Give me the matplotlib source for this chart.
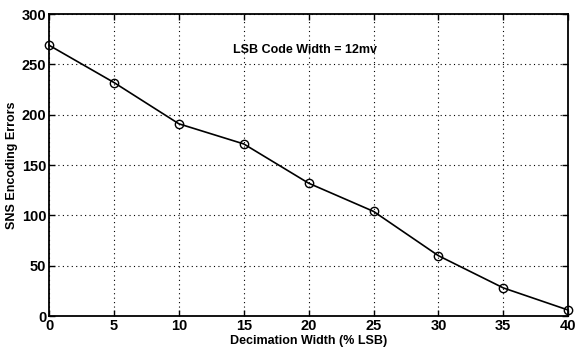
import matplotlib
matplotlib.use("Agg")
import matplotlib.pyplot as plt

decimation_width = [0, 5, 10, 15, 20, 25, 30, 35, 40]
encoding_errors = [269, 232, 191, 171, 132, 104, 60, 28, 6]

x_ticks = [0, 5, 10, 15, 20, 25, 30, 35, 40]
y_ticks = [0, 50, 100, 150, 200, 250, 300]

plt.rcParams['font.family'] = ['Liberation Sans', 'DejaVu Sans']

fig = plt.figure(figsize=(5.78, 3.52), dpi=100)
ax = fig.add_axes([0.085, 0.102, 0.898, 0.858])

ax.plot(decimation_width, encoding_errors, color='black', linewidth=1.2,
        marker='o', markersize=6, markerfacecolor='none', markeredgecolor='black',
        markeredgewidth=1.0, clip_on=False, zorder=3)

ax.set_xlim(0, 40)
ax.set_ylim(0, 300)
ax.set_xticks(x_ticks)
ax.set_yticks(y_ticks)
ax.grid(True, linestyle=(0, (1, 3)), color='black', linewidth=0.8)
ax.tick_params(direction='in', top=True, right=True, length=4, width=1,
               labelsize=10.5, pad=2)
for lab in ax.get_xticklabels() + ax.get_yticklabels():
    lab.set_fontweight('bold')
for s in ax.spines.values():
    s.set_linewidth(1.3)

ax.set_xlabel('Decimation Width (% LSB)', fontsize=9, fontweight='bold', labelpad=1.5)
ax.set_ylabel('SNS Encoding Errors', fontsize=9, fontweight='bold', labelpad=3)
ax.text(19.7, 264, 'LSB Code Width = 12mv', fontsize=9, fontweight='bold',
        ha='center', va='center')

fig.savefig('out.png', dpi=100)
